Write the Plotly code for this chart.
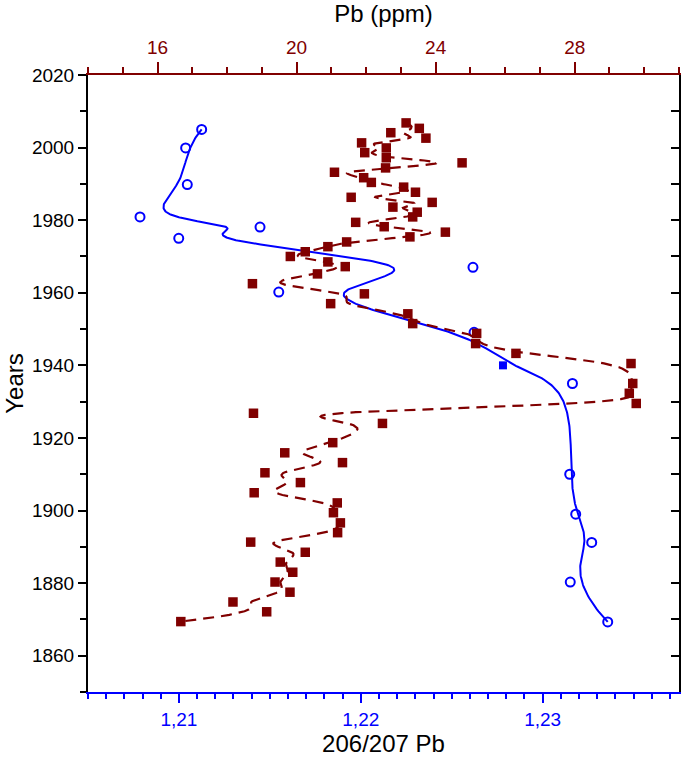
import numpy as np
import plotly.graph_objects as go

# ---------------- data ----------------
# Pb concentration (ppm) vs year (dark red squares)
pb_years = [2006.8, 2005.3, 2004.1, 2002.6, 2001.3, 1999.9, 1998.6, 1997.2, 1995.8, 1994.4,
            1993.2, 1991.7, 1990.4, 1989.1, 1987.7, 1986.3, 1984.9, 1983.6, 1982.2, 1980.9,
            1979.4, 1978.2, 1976.7, 1975.4, 1974.0, 1972.7, 1971.3, 1970.0, 1968.5, 1967.2,
            1965.2, 1962.5, 1959.7, 1957.0, 1954.2, 1951.5, 1948.8, 1946.0, 1943.3, 1940.5,
            1935.0, 1932.3, 1929.5, 1926.8, 1924.0, 1918.7, 1915.9, 1913.2, 1910.4, 1907.7,
            1904.9, 1902.1, 1899.4, 1896.6, 1893.9, 1891.3, 1888.5, 1885.8, 1883.0, 1880.3,
            1877.5, 1874.8, 1872.1, 1869.4]
pb_ppm = [23.15, 23.53, 22.71, 23.72, 21.87, 22.58, 21.96, 22.58, 24.76, 22.56,
          21.09, 21.93, 22.15, 23.08, 23.42, 21.57, 23.90, 22.77, 23.47, 23.34,
          21.70, 22.52, 24.28, 23.26, 21.44, 20.90, 20.25, 19.82, 20.90, 21.40,
          20.60, 18.73, 21.95, 20.98, 23.20, 23.34, 25.18, 25.15, 26.31, 29.62,
          29.67, 29.57, 29.77, 18.76, 22.47, 21.04, 19.66, 21.32, 19.09, 20.11,
          18.78, 21.17, 21.06, 21.26, 21.18, 18.68, 20.25, 19.53, 19.89, 19.38,
          19.81, 18.17, 19.14, 16.67]

# 206/207 Pb ratio vs year (blue open circles)
ratio_years = [2005.0, 1999.9, 1989.8, 1980.9, 1978.1, 1975.0, 1967.0, 1960.2, 1949.1,
               1935.0, 1910.0, 1899.0, 1891.2, 1880.3, 1869.3]
ratio_vals = [1.21125, 1.21037, 1.21046, 1.20786, 1.21446, 1.20999, 1.22617, 1.21549, 1.22623,
              1.23164, 1.23149, 1.23182, 1.23270, 1.23152, 1.23358]
# highlighted ratio sample (blue filled square)
ratio_hl_years = [1940.0]
ratio_hl_vals = [1.22782]

# tick labels
ratio_tickvals = [1.21, 1.22, 1.23]
ratio_ticktext = ["1,21", "1,22", "1,23"]
pb_tickvals = [16, 20, 24, 28]
year_tickvals = [1860, 1880, 1900, 1920, 1940, 1960, 1980, 2000, 2020]

RED = "#800000"
BLUE = "#0000ff"
FONT = "Liberation Sans, Arial, sans-serif"
TICK_SIZE = 19
TITLE_SIZE = 24


def bspline(xs, ys, k=3, n=700):
    """Clamped uniform cubic B-spline using the data points as control points."""
    P = np.column_stack([xs, ys]).astype(float)
    m = len(P)
    knots = np.concatenate([np.zeros(k), np.arange(m - k + 1, dtype=float), np.full(k, float(m - k))])
    t = np.linspace(0, m - k, n)
    t[-1] -= 1e-9

    def N(i, p):
        if p == 0:
            return ((knots[i] <= t) & (t < knots[i + 1])).astype(float)
        out = np.zeros_like(t)
        d1 = knots[i + p] - knots[i]
        if d1 > 0:
            out += (t - knots[i]) / d1 * N(i, p - 1)
        d2 = knots[i + p + 1] - knots[i + 1]
        if d2 > 0:
            out += (knots[i + p + 1] - t) / d2 * N(i + 1, p - 1)
        return out

    B = np.array([N(i, k) for i in range(m)])
    C = B.T @ P
    return C[:, 0], C[:, 1]


# blue curve runs through all ratio samples in time order
all_r = sorted(zip(ratio_years + ratio_hl_years, ratio_vals + ratio_hl_vals), key=lambda p: -p[0])
bx, by = bspline([p[1] for p in all_r], [p[0] for p in all_r])
rx, ry = bspline(pb_ppm, pb_years)

fig = go.Figure()

fig.add_trace(go.Scatter(x=bx, y=by, mode="lines", xaxis="x", yaxis="y",
                         line=dict(color=BLUE, width=2), hoverinfo="skip"))
fig.add_trace(go.Scatter(x=ratio_vals, y=ratio_years, mode="markers", xaxis="x", yaxis="y",
                         marker=dict(symbol="circle-open", size=9, color=BLUE, line=dict(width=2, color=BLUE)),
                         name="206/207 Pb"))
fig.add_trace(go.Scatter(x=ratio_hl_vals, y=ratio_hl_years, mode="markers", xaxis="x", yaxis="y",
                         marker=dict(symbol="square", size=8, color=BLUE), name="206/207 Pb"))
fig.add_trace(go.Scatter(x=rx, y=ry, mode="lines", xaxis="x2", yaxis="y",
                         line=dict(color=RED, width=2.2, dash="11px,7px"), hoverinfo="skip"))
fig.add_trace(go.Scatter(x=pb_ppm, y=pb_years, mode="markers", xaxis="x2", yaxis="y",
                         marker=dict(symbol="square", size=9.5, color=RED), name="Pb (ppm)"))
# empty trace so the right-hand (mirror) year axis is drawn
fig.add_trace(go.Scatter(x=[None], y=[None], mode="markers", xaxis="x", yaxis="y2",
                         showlegend=False, hoverinfo="skip"))

fig.update_layout(
    width=685, height=762,
    margin=dict(l=88, r=6, t=75, b=70, autoexpand=False),
    plot_bgcolor="white", paper_bgcolor="white",
    showlegend=False,
    font=dict(family=FONT, size=TICK_SIZE, color="#000"),
    xaxis=dict(
        range=[1.205, 1.2375], tickmode="array", tickvals=ratio_tickvals, ticktext=ratio_ticktext,
        ticks="outside", ticklen=9, tickwidth=2, tickcolor=BLUE,
        minor=dict(tickmode="linear", tick0=1.205, dtick=0.001, ticks="outside", ticklen=5,
                   tickwidth=1.5, tickcolor=BLUE, showgrid=False),
        showline=True, linecolor=BLUE, linewidth=2, showgrid=False, zeroline=False,
        tickfont=dict(color=BLUE, size=TICK_SIZE), automargin=False,
        title=dict(text="206/207 Pb", font=dict(size=TITLE_SIZE, color="#000"), standoff=6),
        anchor="y", side="bottom",
    ),
    xaxis2=dict(
        range=[14, 31], tickmode="array", tickvals=pb_tickvals, overlaying="x", side="top", anchor="y",
        ticks="outside", ticklen=11, tickwidth=2, tickcolor=RED,
        minor=dict(tickmode="linear", tick0=14, dtick=1, ticks="outside", ticklen=6,
                   tickwidth=1.5, tickcolor=RED, showgrid=False),
        showline=True, linecolor=RED, linewidth=2, showgrid=False, zeroline=False,
        tickfont=dict(color=RED, size=TICK_SIZE), automargin=False,
        title=dict(text="Pb (ppm)", font=dict(size=TITLE_SIZE, color="#000"), standoff=8),
    ),
    yaxis=dict(
        range=[1850, 2020], tickmode="array", tickvals=year_tickvals,
        ticks="outside", ticklen=8, tickwidth=2, tickcolor="#000",
        minor=dict(tickmode="linear", tick0=1850, dtick=10, ticks="outside", ticklen=6,
                   tickwidth=1.5, tickcolor="#000", showgrid=False),
        showline=True, linecolor="#000", linewidth=2, showgrid=False, zeroline=False,
        tickfont=dict(color="#000", size=TICK_SIZE), automargin=False,
        title=dict(text="Years", font=dict(size=TITLE_SIZE, color="#000"), standoff=2),
        anchor="x",
    ),
    yaxis2=dict(
        range=[1850, 2020], overlaying="y", side="right", anchor="x",
        tickmode="linear", tick0=1850, dtick=10, ticks="inside", ticklen=8, tickwidth=2,
        tickcolor="#000", showticklabels=False, automargin=False,
        showline=True, linecolor="#000", linewidth=2, showgrid=False, zeroline=False,
    ),
)

fig.write_html("out.html", config={"displayModeBar": False},
               post_script="document.body.style.margin='0px';document.body.style.overflow='hidden';")
